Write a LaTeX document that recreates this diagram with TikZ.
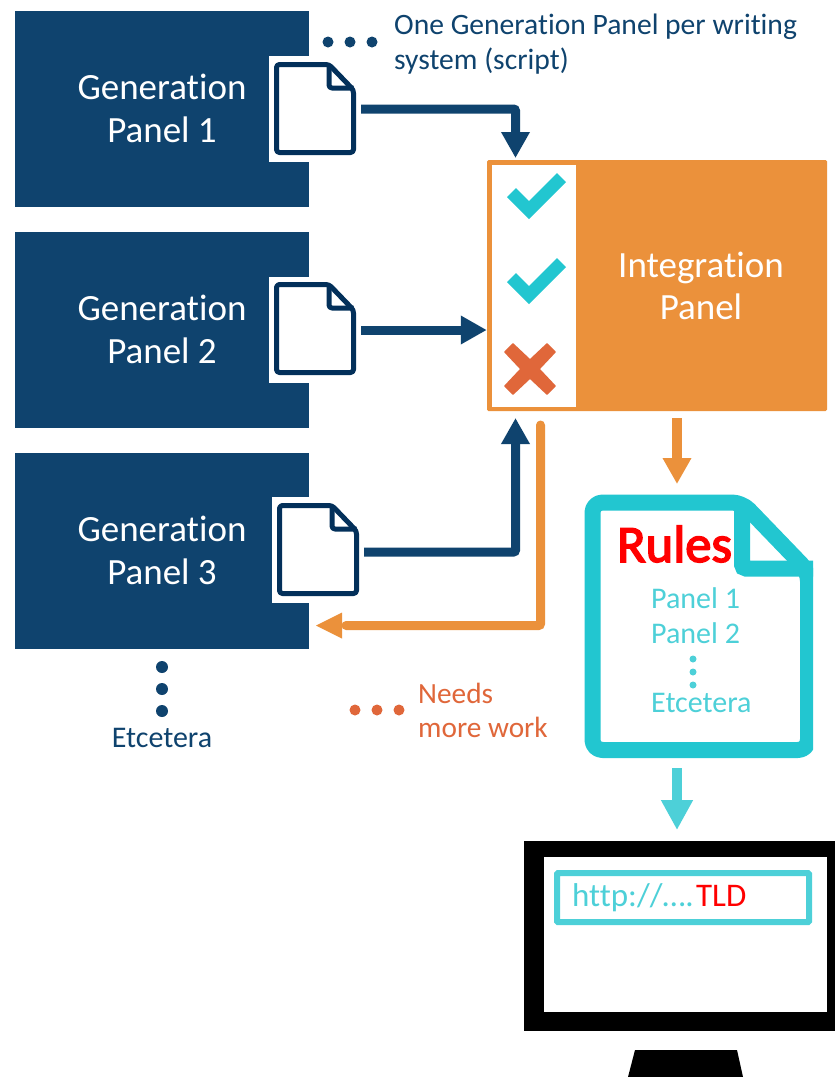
\documentclass[tikz,border=0pt]{standalone}
\usepackage{fontspec}
\setmainfont{Carlito}[Ligatures=NoCommon]
\newfontfamily\rulesfont{Carlito}[FakeBold=3,Ligatures=NoCommon]
\usetikzlibrary{arrows.meta}
\definecolor{navy}{HTML}{0F436E}
\definecolor{docnavy}{HTML}{03305A}
\definecolor{orng}{HTML}{EB913B}
\definecolor{teal}{HTML}{22C6D0}
\definecolor{lteal}{HTML}{4DD0D8}
\definecolor{rorange}{HTML}{E0673A}
\definecolor{rred}{HTML}{FF0000}
\tikzset{
  genpanel/.style={fill=navy,minimum width=294pt,minimum height=196pt,inner sep=0pt,text=white,align=center,font=\fontsize{37}{43}\selectfont},
  backing/.style={fill=white,minimum width=92pt,minimum height=106pt,inner sep=0pt},
  docicon/.style={draw=docnavy,fill=white,line width=5pt,rounded corners=3pt,line join=round},
  link/.style={draw=navy,line width=9pt,rounded corners=2pt,-{Triangle[width=27pt,length=26pt]}},
  olink/.style={draw=orng,line width=9pt,rounded corners=2pt},
  note/.style={inner sep=0pt,anchor=base west,align=left},
  check/.style={fill=teal},
  dotn/.style={circle,fill=navy,minimum size=11pt,inner sep=0pt},
  doto/.style={circle,fill=rorange,minimum size=11pt,inner sep=0pt},
  dott/.style={circle,fill=lteal,minimum size=7pt,inner sep=0pt},
}
\newcommand{\docglyph}[2]{%
  \begin{scope}[shift={(#1,#2)}]
    \draw[docicon] (2.5,2.5) -- (55,2.5) -- (79.5,28) -- (79.5,90.5) -- (2.5,90.5) -- cycle;
    \draw[docicon,fill=none] (55,2.5) -- (55,26) -- (79.5,26);
  \end{scope}}
\begin{document}
\begin{tikzpicture}[x=1pt,y=-1pt]
\useasboundingbox (0,0) rectangle (835,1077);
\fill[white] (0,0) rectangle (835,1077);
% generation panels
\node[genpanel] (gen1) at (162,108.5) {Generation\\Panel 1};
\node[genpanel] (gen2) at (162,329.5) {Generation\\Panel 2};
\node[genpanel] (gen3) at (162,550.5) {Generation\\Panel 3};
% backings and document icons
\node[backing] (back1) at (315,109) {};
\node[backing] (back2) at (315,330) {};
\node[backing,minimum width=92pt] (back3) at (318,549.5) {};
\docglyph{274}{62}
\docglyph{274}{282}
\docglyph{277}{503}
% integration panel
\node[fill=orng,minimum width=340pt,minimum height=251pt,inner sep=0pt,rounded corners=1.5pt] (integ) at (657,285.5) {};
\node[fill=white,minimum width=84pt,minimum height=242pt,inner sep=0pt] (ticks) at (534,286) {};
\node[text=white,align=center,inner sep=0pt,font=\fontsize{37}{42}\selectfont] (integlabel) at (701,286) {Integration\\Panel};
\fill[check] (507,197) -- (516,188) -- (529,201) -- (557,173) -- (566,182) -- (529,219) -- cycle;
\fill[check] (507,282) -- (516,273) -- (529,286) -- (557,258) -- (566,267) -- (529,304) -- cycle;
\draw[rorange,fill=rorange,line width=1.5pt,line join=round] (505,352) -- (513,344) -- (530,360) -- (547,344) -- (555,352) -- (539,369) -- (555,386) -- (547,394) -- (530,378) -- (513,394) -- (505,386) -- (521,369) -- cycle;
% connectors
\coordinate (in1) at (515.5,158);
\coordinate (in3) at (515.5,418);
\coordinate (s3) at ([yshift=-2.5pt]back3.east);
\coordinate (rs) at (540.5,425);
\coordinate (rt) at (316,625.5);
\draw[link] (back1.east) -- (in1 |- back1.east) -- (in1);
\draw[link] (back2.east) -- (integ.west |- back2.east);
\draw[link] (s3) -- (in3 |- s3) -- (in3);
\draw[olink,line cap=round] (rs) -- (rs |- rt) -- ([xshift=30pt]rt);
\fill[orng] (rt) -- ++(26,-13) -- ++(0,26) -- cycle;
% rules document
\begin{scope}
\clip (570,480) rectangle (813,770);
\draw[draw=teal,line width=16pt,fill=white,rounded corners=10pt,line join=round] (592.5,502.5) -- (742,502.5) -- (808,571) -- (808,750) -- (592.5,750) -- cycle;
\draw[draw=teal,line width=16pt,rounded corners=4pt] (742,503) -- (742,568.5) -- (820,568.5);
\end{scope}
\node[inner sep=0pt,anchor=base west,text=rred,font=\fontsize{52.5}{60}\selectfont\rulesfont] (rules) at (617,562) {Rules};
\node[note,text=lteal,font=\fontsize{30}{34}\selectfont] (p1) at (651,608) {Panel 1};
\node[note,text=lteal,font=\fontsize{30}{34}\selectfont] (p2) at (651,643) {Panel 2};
\node[dott] (d1) at (693,659) {};
\node[dott] (d2) at (693,672) {};
\node[dott] (d3) at (693,685) {};
\node[note,text=lteal,font=\fontsize{30}{34}\selectfont] (p3) at (651,712) {Etcetera};
% arrows around rules
\coordinate (a1) at (677,418);
\coordinate (a2) at (677,484);
\draw[draw=orng,line width=10pt,-{Triangle[width=27pt,length=26pt]}] (a1) -- (a2);
\coordinate (b1) at (677,768);
\coordinate (b2) at (677,830);
\draw[draw=lteal,line width=10pt,-{Triangle[width=30pt,length=30pt]}] (b1) -- (b2);
% monitor
\fill[black] (524,841) rectangle (835,1031);
\fill[white] (544,857) rectangle (827,1012);
\fill[black] (635,1050) -- (737,1050) -- (743,1077) -- (628,1077) -- cycle;
\draw[draw=lteal,line width=6pt,rounded corners=1pt] (557,873) rectangle (809,922);
\node[note,font=\fontsize{33}{36}\selectfont] (url) at (572,906) {\textcolor{lteal}{http://….}\kern2.5pt\textcolor{rred}{TLD}};
% notes
\node[dotn] (t1) at (328,42) {};
\node[dotn] (t2) at (350,42) {};
\node[dotn] (t3) at (372,42) {};
\node[note,text=navy,font=\fontsize{29.6}{35}\selectfont] (note1) at (394,34) {One Generation Panel per writing};
\node[note,text=navy,font=\fontsize{29.6}{35}\selectfont] (note1b) at (394,69) {system (script)};
\node[doto] (n1) at (355,710) {};
\node[doto] (n2) at (377,710) {};
\node[doto] (n3) at (399,710) {};
\node[note,text=rorange,font=\fontsize{29.3}{34}\selectfont] (needs1) at (418,703) {Needs};
\node[note,text=rorange,font=\fontsize{29.3}{34}\selectfont] (needs2) at (418,737) {more work};
\node[dotn,minimum size=12pt] (e1) at (162,667) {};
\node[dotn,minimum size=12pt] (e2) at (162,689) {};
\node[dotn,minimum size=12pt] (e3) at (162,711) {};
\node[inner sep=0pt,anchor=base,text=navy,font=\fontsize{30}{30}\selectfont] (etc) at (162,747) {Etcetera};
\end{tikzpicture}
\end{document}
